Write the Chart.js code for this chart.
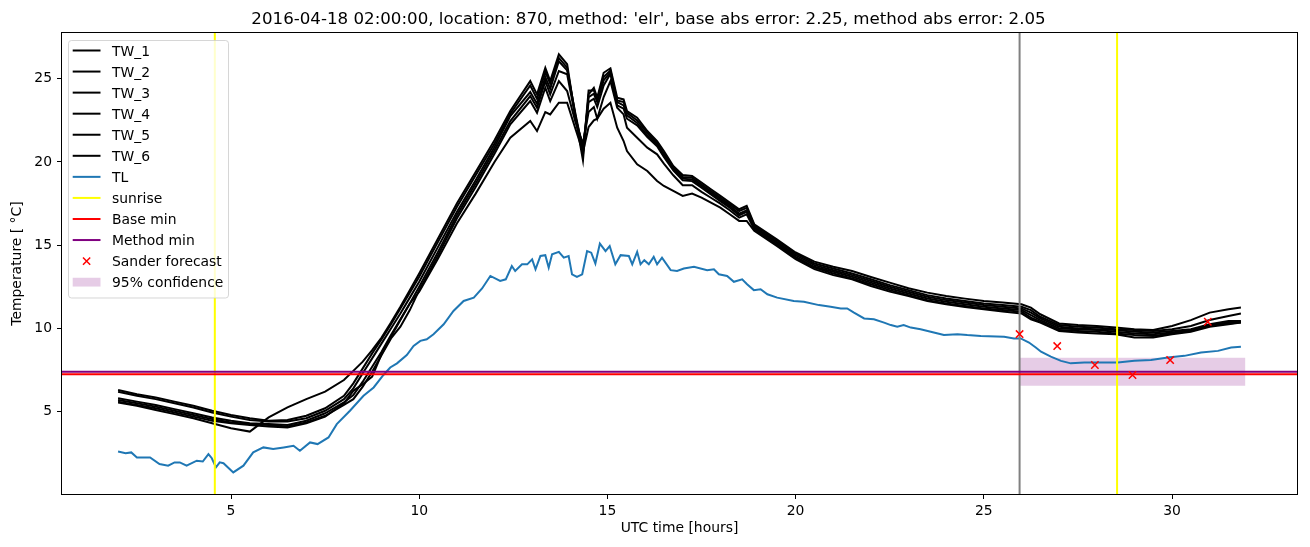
<!DOCTYPE html>
<html>
<head>
<meta charset="utf-8">
<title>TW / TL temperatures</title>
<script src="https://cdn.jsdelivr.net/npm/chart.js@4.4.1/dist/chart.umd.min.js"></script>
<style>
  html, body { margin: 0; padding: 0; background: #ffffff; }
  #wrap { width: 1310px; height: 547px; }
</style>
</head>
<body>
<div id="wrap"><canvas id="chart" width="1310" height="547"></canvas></div>
<script>
// Time axis for the six TW sensors (UTC hours)
const twHours = [2, 2.5, 3, 3.5, 4, 4.5, 5, 5.5, 6, 6.5, 7, 7.5, 8, 8.25, 8.5, 8.75, 9, 9.25, 9.5, 9.75, 10, 10.5, 11, 11.5, 12,
  12.42, 12.95, 13.13, 13.35, 13.48, 13.71, 13.93, 14.15, 14.35, 14.5, 14.64, 14.73, 14.9, 15.08, 15.26, 15.43, 15.52, 15.79,
  16.06, 16.32, 16.5, 16.75, 17, 17.25, 17.5, 17.75, 18, 18.25, 18.5, 18.7, 18.9, 19.5, 20, 20.5, 21, 21.5, 22, 22.5, 23,
  23.5, 24, 24.5, 25, 25.5, 26, 26.25, 26.5, 27, 27.5, 28, 28.5, 29, 29.5, 30, 30.5, 31, 31.5, 31.83];

const tw1 = [5.55, 5.35, 5.1, 4.85, 4.6, 4.3, 4.0, 3.8, 4.65, 5.25, 5.75, 6.2, 6.9,
  7.45, 8.0, 8.7, 9.45, 10.35, 11.3, 12.3, 13.3, 15.4, 17.5, 19.4, 21.3,
  23.06, 24.86, 24.06, 25.66, 24.86, 26.47, 25.87,
  22.66, 20.1, 24.06, 24.46, 23.86, 25.36, 25.63,
  23.86, 23.76, 23.06, 22.66, 21.86, 21.26,
  20.66, 19.76, 19.22, 19.16, 18.76, 18.36, 17.96, 17.56, 17.16, 17.36, 16.26,
  15.36, 14.56, 14.01, 13.7, 13.45, 13.09, 12.75, 12.41, 12.15, 11.95, 11.79, 11.65, 11.55, 11.45,
  11.25, 10.85, 10.3, 10.2, 10.15, 10.05, 9.95, 9.9, 10.15, 10.5, 10.95, 11.15, 11.25];

const tw2 = [6.3, 6.05, 5.85, 5.6, 5.35, 5.05, 4.8, 4.6, 4.45, 4.5, 4.75, 5.2, 5.95,
  6.7, 7.6, 8.5, 9.35, 10.25, 11.2, 12.15, 13.1, 15.2, 17.3, 19.2, 21.1,
  22.9, 24.6, 23.8, 25.4, 24.7, 26.25, 25.67,
  22.8, 20.4, 24.3, 24.3, 23.8, 25.1, 25.5,
  23.7, 23.6, 22.95, 22.5, 21.75, 21.15,
  20.5, 19.7, 19.1, 19.05, 18.65, 18.25, 17.85, 17.45, 17.05, 17.25, 16.2,
  15.3, 14.5, 13.9, 13.6, 13.3, 12.95, 12.6, 12.3, 12.0, 11.8, 11.65, 11.5, 11.4, 11.3,
  11.1, 10.7, 10.2, 10.1, 10.05, 9.95, 9.9, 9.85, 9.95, 10.15, 10.5, 10.75, 10.9];

const tw3 = [6.2, 5.95, 5.75, 5.5, 5.25, 4.95, 4.7, 4.5, 4.4, 4.4, 4.6, 5.05, 5.75,
  6.4, 7.3, 8.2, 9.1, 10.0, 10.9, 11.85, 12.8, 14.9, 17.0, 18.9, 20.9,
  22.76, 24.2, 23.5, 25.1, 24.4, 26.05, 25.5,
  22.9, 20.7, 23.9, 24.1, 23.6, 24.9, 25.4,
  23.6, 23.4, 22.8, 22.35, 21.6, 21.05,
  20.4, 19.6, 19.0, 18.95, 18.55, 18.15, 17.75, 17.35, 16.9, 17.1, 16.1,
  15.2, 14.4, 13.8, 13.5, 13.2, 12.85, 12.5, 12.2, 11.9, 11.7, 11.55, 11.4, 11.3, 11.2,
  10.95, 10.6, 10.1, 10.0, 9.95, 9.9, 9.8, 9.75, 9.85, 9.95, 10.25, 10.45, 10.45];

const tw4 = [5.8, 5.6, 5.4, 5.15, 4.9, 4.65, 4.45, 4.3, 4.25, 4.2, 4.45, 4.9, 5.55,
  6.0, 6.8, 7.7, 8.6, 9.6, 10.55, 11.5, 12.5, 14.6, 16.8, 18.7, 20.7,
  22.46, 23.96, 23.26, 24.86, 24.06, 25.47, 25.27,
  22.7, 20.9, 23.6, 23.8, 23.3, 24.6, 25.3,
  23.4, 23.2, 22.6, 22.2, 21.5, 20.95,
  20.3, 19.5, 18.9, 18.85, 18.45, 18.05, 17.65, 17.25, 16.8, 17.0, 16.05,
  15.15, 14.3, 13.7, 13.4, 13.1, 12.75, 12.4, 12.1, 11.8, 11.6, 11.45, 11.3, 11.2, 11.1,
  10.8, 10.5, 10.0, 9.95, 9.9, 9.8, 9.7, 9.65, 9.75, 9.9, 10.2, 10.35, 10.4];

const tw5 = [5.7, 5.5, 5.3, 5.05, 4.8, 4.55, 4.35, 4.25, 4.2, 4.1, 4.35, 4.75, 5.4,
  5.75, 6.5, 7.4, 8.4, 9.4, 10.1, 11.1, 12.3, 14.4, 16.6, 18.5, 20.5,
  22.26, 23.66, 22.96, 24.46, 23.66, 24.86, 24.26,
  22.4, 21.1, 23.0, 23.3, 22.6, 23.9, 24.86,
  23.26, 22.86, 22.06, 21.46, 20.86, 20.46,
  19.9, 19.2, 18.6, 18.6, 18.2, 17.85, 17.5, 17.1, 16.66, 16.85, 15.95,
  15.05, 14.25, 13.65, 13.3, 13.0, 12.65, 12.3, 12.0, 11.7, 11.5, 11.35, 11.2, 11.1, 11.0,
  10.65, 10.4, 9.9, 9.85, 9.8, 9.7, 9.6, 9.55, 9.7, 9.85, 10.15, 10.3, 10.35];

const tw6 = [5.6, 5.4, 5.2, 4.95, 4.7, 4.45, 4.3, 4.2, 4.1, 4.05, 4.3, 4.7, 5.5,
  6.25, 6.65, 7.1, 8.45, 9.5, 10.5, 11.5, 12.2, 14.2, 16.3, 18.1, 20.0,
  21.46, 22.46, 21.86, 23.0, 22.86, 23.56, 23.56,
  22.0, 20.6, 22.1, 22.5, 22.6, 23.2, 23.56,
  22.06, 21.26, 20.66, 19.86, 19.46, 18.86,
  18.56, 18.26, 17.96, 18.1, 17.86, 17.56, 17.26, 16.86, 16.46, 16.46, 15.86,
  14.96, 14.16, 13.56, 13.2, 12.95, 12.55, 12.21, 11.95, 11.65, 11.45, 11.29, 11.15, 11.01, 10.9,
  10.55, 10.35, 9.85, 9.75, 9.7, 9.65, 9.45, 9.45, 9.65, 9.8, 10.1, 10.25, 10.35];

// TL sensor, read at its own time steps
const tlHours = [2.0, 2.2, 2.35, 2.5, 2.85, 3.1, 3.33, 3.5, 3.64, 3.82, 4.09, 4.25, 4.4, 4.49, 4.6, 4.7, 4.8, 5.06, 5.33,
  5.59, 5.86, 6.12, 6.4, 6.66, 6.83, 7.1, 7.3, 7.59, 7.81, 8.16, 8.52, 8.79, 9.05, 9.23, 9.41, 9.67, 9.85, 10.03,
  10.2, 10.38, 10.65, 10.91, 11.18, 11.45, 11.67, 11.89, 12.15, 12.3, 12.46, 12.55, 12.73, 12.87, 13.0, 13.09,
  13.22, 13.35, 13.44, 13.53, 13.71, 13.84, 13.97, 14.06, 14.19, 14.33, 14.46, 14.57, 14.68, 14.8, 14.95, 15.06,
  15.21, 15.35, 15.57, 15.66, 15.79, 15.88, 15.98, 16.1, 16.23, 16.32, 16.45, 16.68, 16.85, 17.03, 17.3, 17.65,
  17.83, 17.96, 18.18, 18.36, 18.58, 18.71, 18.89, 19.07, 19.25, 19.51, 19.95, 20.22, 20.62, 20.93, 21.2, 21.37,
  21.55, 21.82, 22.08, 22.35, 22.53, 22.7, 22.87, 23.06, 23.32, 23.59, 23.94, 24.3, 24.56, 24.92, 25.54, 25.8,
  25.98, 26.2, 26.38, 26.52, 26.78, 27.05, 27.31, 27.67, 28.11, 28.56, 29.0, 29.44, 29.89, 30.33, 30.77, 31.22,
  31.57, 31.83];
const tlValues = [2.6, 2.5, 2.55, 2.25, 2.25, 1.85, 1.75, 1.95, 1.95, 1.75, 2.05, 2.0, 2.45, 2.2, 1.65, 1.95, 1.9, 1.35, 1.75,
  2.55, 2.85, 2.75, 2.85, 2.95, 2.65, 3.15, 3.05, 3.45, 4.25, 5.05, 5.95, 6.45, 7.2, 7.65, 7.9, 8.4, 8.95, 9.25,
  9.35, 9.65, 10.25, 11.05, 11.65, 11.85, 12.4, 13.15, 12.85, 12.95, 13.75, 13.45, 13.85, 13.85, 14.15, 13.55,
  14.35, 14.4, 13.65, 14.45, 14.6, 14.25, 14.35, 13.25, 13.1, 13.25, 14.65, 14.55, 13.9, 15.1, 14.65, 14.95,
  13.85, 14.4, 14.35, 13.85, 14.6, 13.85, 14.1, 13.85, 14.3, 13.85, 14.25, 13.5, 13.45, 13.6, 13.7, 13.5,
  13.55, 13.25, 13.15, 12.8, 12.95, 12.65, 12.3, 12.35, 12.05, 11.85, 11.65, 11.6, 11.4, 11.3, 11.2, 11.2,
  10.95, 10.6, 10.55, 10.35, 10.2, 10.1, 10.2, 10.05, 9.95, 9.8, 9.6, 9.65, 9.6, 9.55, 9.5, 9.4,
  9.4, 9.15, 8.85, 8.6, 8.3, 8.05, 7.9, 7.95, 7.95, 7.95, 8.05, 8.1, 8.25, 8.35, 8.55, 8.65,
  8.85, 8.9];

// Reference lines
const sunriseHours = [4.57, 28.54];
const forecastStart = 25.95;
const baseMin = 7.24;
const methodMin = 7.40;

// Sander forecast and its 95% band
const forecastHours = [25.95, 26.95, 27.95, 28.95, 29.95, 30.95];
const forecastValues = [9.66, 8.94, 7.8, 7.2, 8.1, 10.4];
const bandHours = [25.95, 31.95];
const bandLow = 6.56;
const bandHigh = 8.24;

// Ticks
const xTicks = [5, 10, 15, 20, 25, 30];
const yTicks = [5, 10, 15, 20, 25];

const twNames = ['TW_1', 'TW_2', 'TW_3', 'TW_4', 'TW_5', 'TW_6'];
const twSeries = [tw1, tw2, tw3, tw4, tw5, tw6];

const FONT = "'DejaVu Sans', sans-serif";
const BLUE = '#1f77b4';
const BAND = 'rgba(128, 0, 128, 0.2)';

Chart.defaults.font.family = FONT;
Chart.defaults.font.size = 13.9;
Chart.defaults.color = '#000000';

function pairs(xs, ys) {
    return xs.map((x, i) => ({ x: x, y: ys[i] }));
}

// Vertical lines spanning the whole axis, broken apart by a null point
function vLines(xs) {
    const out = [];
    xs.forEach((x, i) => {
        if (i > 0) out.push({ x: x, y: null });
        out.push({ x: x, y: -50 }, { x: x, y: 80 });
    });
    return out;
}

const lineBase = { pointRadius: 0, borderWidth: 2, tension: 0, fill: false };

const datasets = [];

// Confidence band (drawn first, below everything)
datasets.push({ ...lineBase, label: 'band low', data: [{ x: bandHours[0], y: bandLow }, { x: bandHours[1], y: bandLow }], borderWidth: 0, order: 100 });
datasets.push({ ...lineBase, label: '95% confidence', data: [{ x: bandHours[0], y: bandHigh }, { x: bandHours[1], y: bandHigh }], borderWidth: 0, fill: '-1', backgroundColor: BAND, order: 99 });

twSeries.forEach((s, i) => {
    datasets.push({ ...lineBase, label: twNames[i], data: pairs(twHours, s), borderColor: '#000000', order: 60 - i });
});
datasets.push({ ...lineBase, label: 'TL', data: pairs(tlHours, tlValues), borderColor: BLUE, order: 40 });
datasets.push({ ...lineBase, label: 'sunrise', data: vLines(sunriseHours), borderColor: '#ffff00', order: 30 });
datasets.push({ ...lineBase, label: 'forecast start', data: vLines([forecastStart]), borderColor: '#808080', order: 25 });
datasets.push({ ...lineBase, label: 'Base min', data: [{ x: -10, y: baseMin }, { x: 50, y: baseMin }], borderColor: '#ff0000', order: 20 });
datasets.push({ ...lineBase, label: 'Method min', data: [{ x: -10, y: methodMin }, { x: 50, y: methodMin }], borderColor: '#800080', order: 15 });
datasets.push({
    label: 'Sander forecast', data: pairs(forecastHours, forecastValues), showLine: false,
    pointStyle: 'crossRot', pointRadius: 5.2, pointBorderColor: '#ff0000', pointBorderWidth: 1.5, order: 10
});

// Legend entries in the reference order
const legendItems = [
    ...twNames.map(n => ({ label: n, kind: 'line', color: '#000000' })),
    { label: 'TL', kind: 'line', color: BLUE },
    { label: 'sunrise', kind: 'line', color: '#ffff00' },
    { label: 'Base min', kind: 'line', color: '#ff0000' },
    { label: 'Method min', kind: 'line', color: '#800080' },
    { label: 'Sander forecast', kind: 'cross', color: '#ff0000' },
    { label: '95% confidence', kind: 'patch', color: BAND }
];

function drawCross(ctx, x, y, r) {
    ctx.beginPath();
    ctx.moveTo(x - r, y - r); ctx.lineTo(x + r, y + r);
    ctx.moveTo(x - r, y + r); ctx.lineTo(x + r, y - r);
    ctx.stroke();
}

// Frame on all four sides plus a matplotlib style legend box
const frameAndLegend = {
    id: 'frameAndLegend',
    afterDatasetsDraw(chart) {
        const ctx = chart.ctx;
        const a = chart.chartArea;
        ctx.save();
        ctx.strokeStyle = '#000000';
        ctx.lineWidth = 1;
        ctx.strokeRect(a.left - 0.5, a.top - 0.5, a.right - a.left + 1, a.bottom - a.top + 1);

        const box = { x: 68.5, y: 40.5, w: 160, h: 257.5 };
        ctx.beginPath();
        ctx.roundRect(box.x, box.y, box.w, box.h, 3);
        ctx.fillStyle = 'rgba(255, 255, 255, 0.8)';
        ctx.fill();
        ctx.strokeStyle = 'rgba(204, 204, 204, 0.8)';
        ctx.stroke();

        const row0 = 50.5, step = 21.06, h0 = 72.7, h1 = 100.5, tx = 112;
        ctx.font = '13.9px ' + FONT;
        ctx.textBaseline = 'alphabetic';
        ctx.textAlign = 'left';
        legendItems.forEach((it, i) => {
            const y = row0 + i * step;
            if (it.kind === 'line') {
                ctx.strokeStyle = it.color;
                ctx.lineWidth = 2;
                ctx.beginPath();
                ctx.moveTo(h0, y); ctx.lineTo(h1, y);
                ctx.stroke();
            } else if (it.kind === 'cross') {
                ctx.strokeStyle = it.color;
                ctx.lineWidth = 1.5;
                drawCross(ctx, (h0 + h1) / 2, y, 3.6);
            } else {
                ctx.fillStyle = it.color;
                ctx.fillRect(h0, y - 4.4, h1 - h0, 8.8);
            }
            ctx.fillStyle = '#000000';
            ctx.fillText(it.label, tx, y + 5);
        });
        ctx.restore();
    }
};

const tickGrid = { display: true, drawOnChartArea: false, drawTicks: true, tickLength: 5, color: '#000000', lineWidth: 1 };

new Chart(document.getElementById('chart'), {
    type: 'line',
    data: { datasets: datasets },
    options: {
        responsive: false,
        animation: false,
        devicePixelRatio: 1,
        layout: { padding: { left: 0, right: 13, top: 0, bottom: 0 } },
        plugins: {
            legend: { display: false },
            tooltip: { enabled: false },
            title: {
                display: true,
                text: "2016-04-18 02:00:00, location: 870, method: 'elr', base abs error: 2.25, method abs error: 2.05",
                font: { family: FONT, size: 16.67, weight: 'normal', lineHeight: 1.2 },
                color: '#000000',
                padding: { top: 10, bottom: 3 }
            }
        },
        scales: {
            x: {
                type: 'linear',
                min: 0.51,
                max: 33.32,
                grid: tickGrid,
                border: { display: false },
                afterBuildTicks: (scale) => { scale.ticks = xTicks.map(v => ({ value: v })); },
                afterFit: (scale) => { scale.height = 53; },
                ticks: { padding: 4, color: '#000000', font: { size: 13.9 } },
                title: { display: true, text: 'UTC time [hours]', color: '#000000', font: { size: 13.9 }, padding: { top: 0, bottom: 10.7 } }
            },
            y: {
                type: 'linear',
                min: 0.05,
                max: 27.75,
                grid: tickGrid,
                border: { display: false },
                afterBuildTicks: (scale) => { scale.ticks = yTicks.map(v => ({ value: v })); },
                afterFit: (scale) => { scale.width = 62; },
                ticks: { padding: 5, color: '#000000', font: { size: 13.9 } },
                title: { display: true, text: 'Temperature [ °C]', color: '#000000', font: { size: 13.9 }, padding: { top: 8.7, bottom: 0 } }
            }
        }
    },
    plugins: [frameAndLegend]
});
</script>
</body>
</html>
